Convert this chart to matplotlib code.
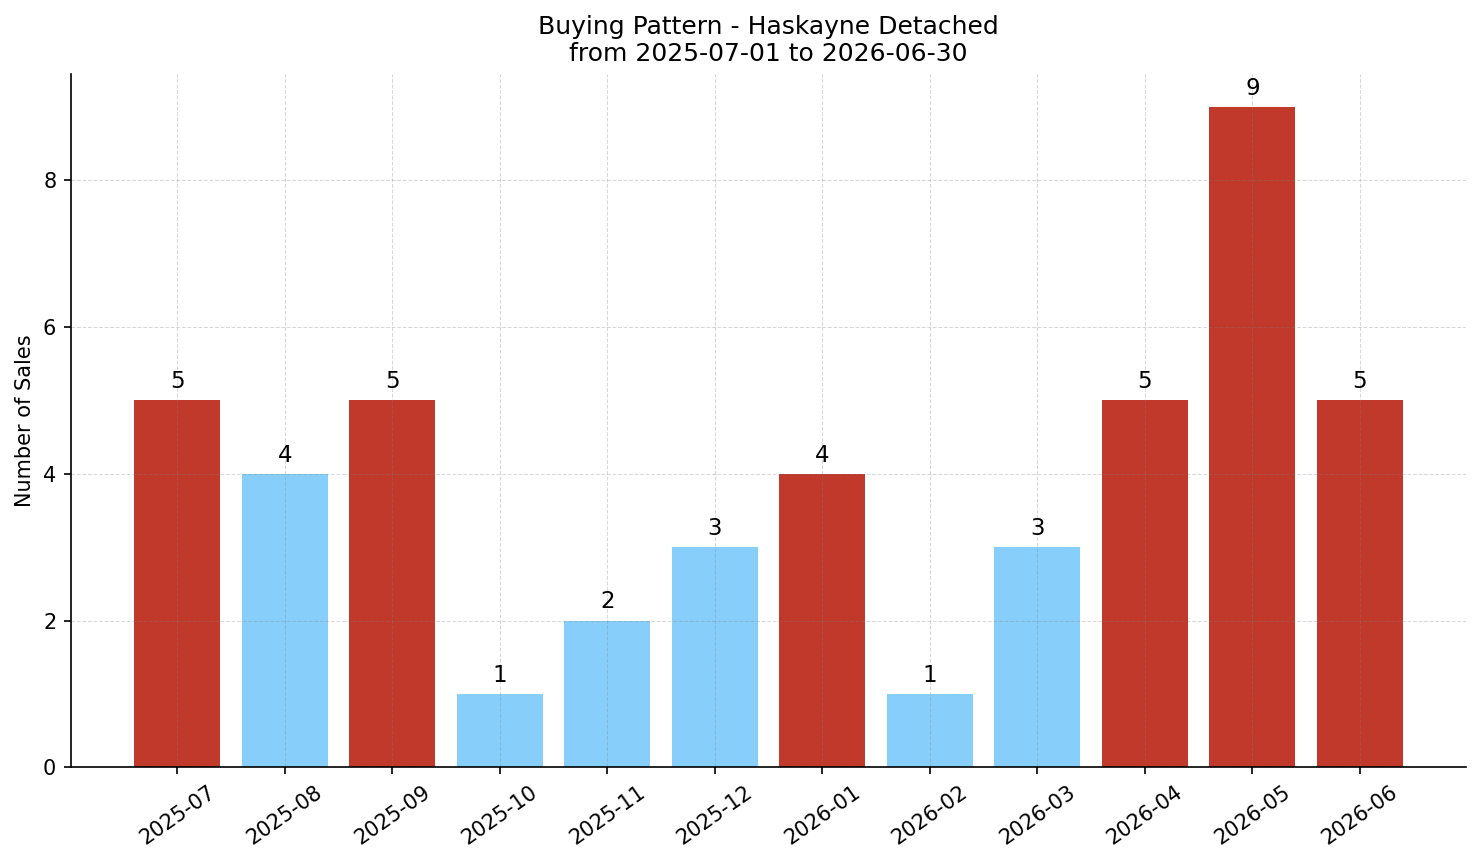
import matplotlib
matplotlib.use("Agg")
import matplotlib.pyplot as plt
import numpy as np

months = ["2025-07", "2025-08", "2025-09", "2025-10", "2025-11", "2025-12",
          "2026-01", "2026-02", "2026-03", "2026-04", "2026-05", "2026-06"]
sales = [5, 4, 5, 1, 2, 3, 4, 1, 3, 5, 9, 5]
highlight = [True, False, True, False, False, False, True, False, False, True, True, True]

RED = "#c0392b"
BLUE = "#87cefa"

fig, ax = plt.subplots(figsize=(1481 / 150, 863 / 150), dpi=150)
x = np.arange(len(months))
colors = [RED if h else BLUE for h in highlight]
bars = ax.bar(x, sales, color=colors, width=0.8)

for b, v in zip(bars, sales):
    ax.text(b.get_x() + b.get_width() / 2, v + 0.1, str(v),
            ha="center", va="bottom", fontsize=11)

ax.set_xticks(x)
ax.set_xticklabels(months, rotation=35, fontsize=10)
ax.tick_params(axis="y", labelsize=10)
ax.set_ylabel("Number of Sales", fontsize=10)
ax.set_title("Buying Pattern - Haskayne Detached\nfrom 2025-07-01 to 2026-06-30", fontsize=12)
ax.grid(True, linestyle="--", color="gray", linewidth=0.5, alpha=0.3)

ax.spines["top"].set_visible(False)
ax.spines["right"].set_visible(False)

plt.tight_layout(pad=0.7)
plt.savefig("out.png", dpi=150)
